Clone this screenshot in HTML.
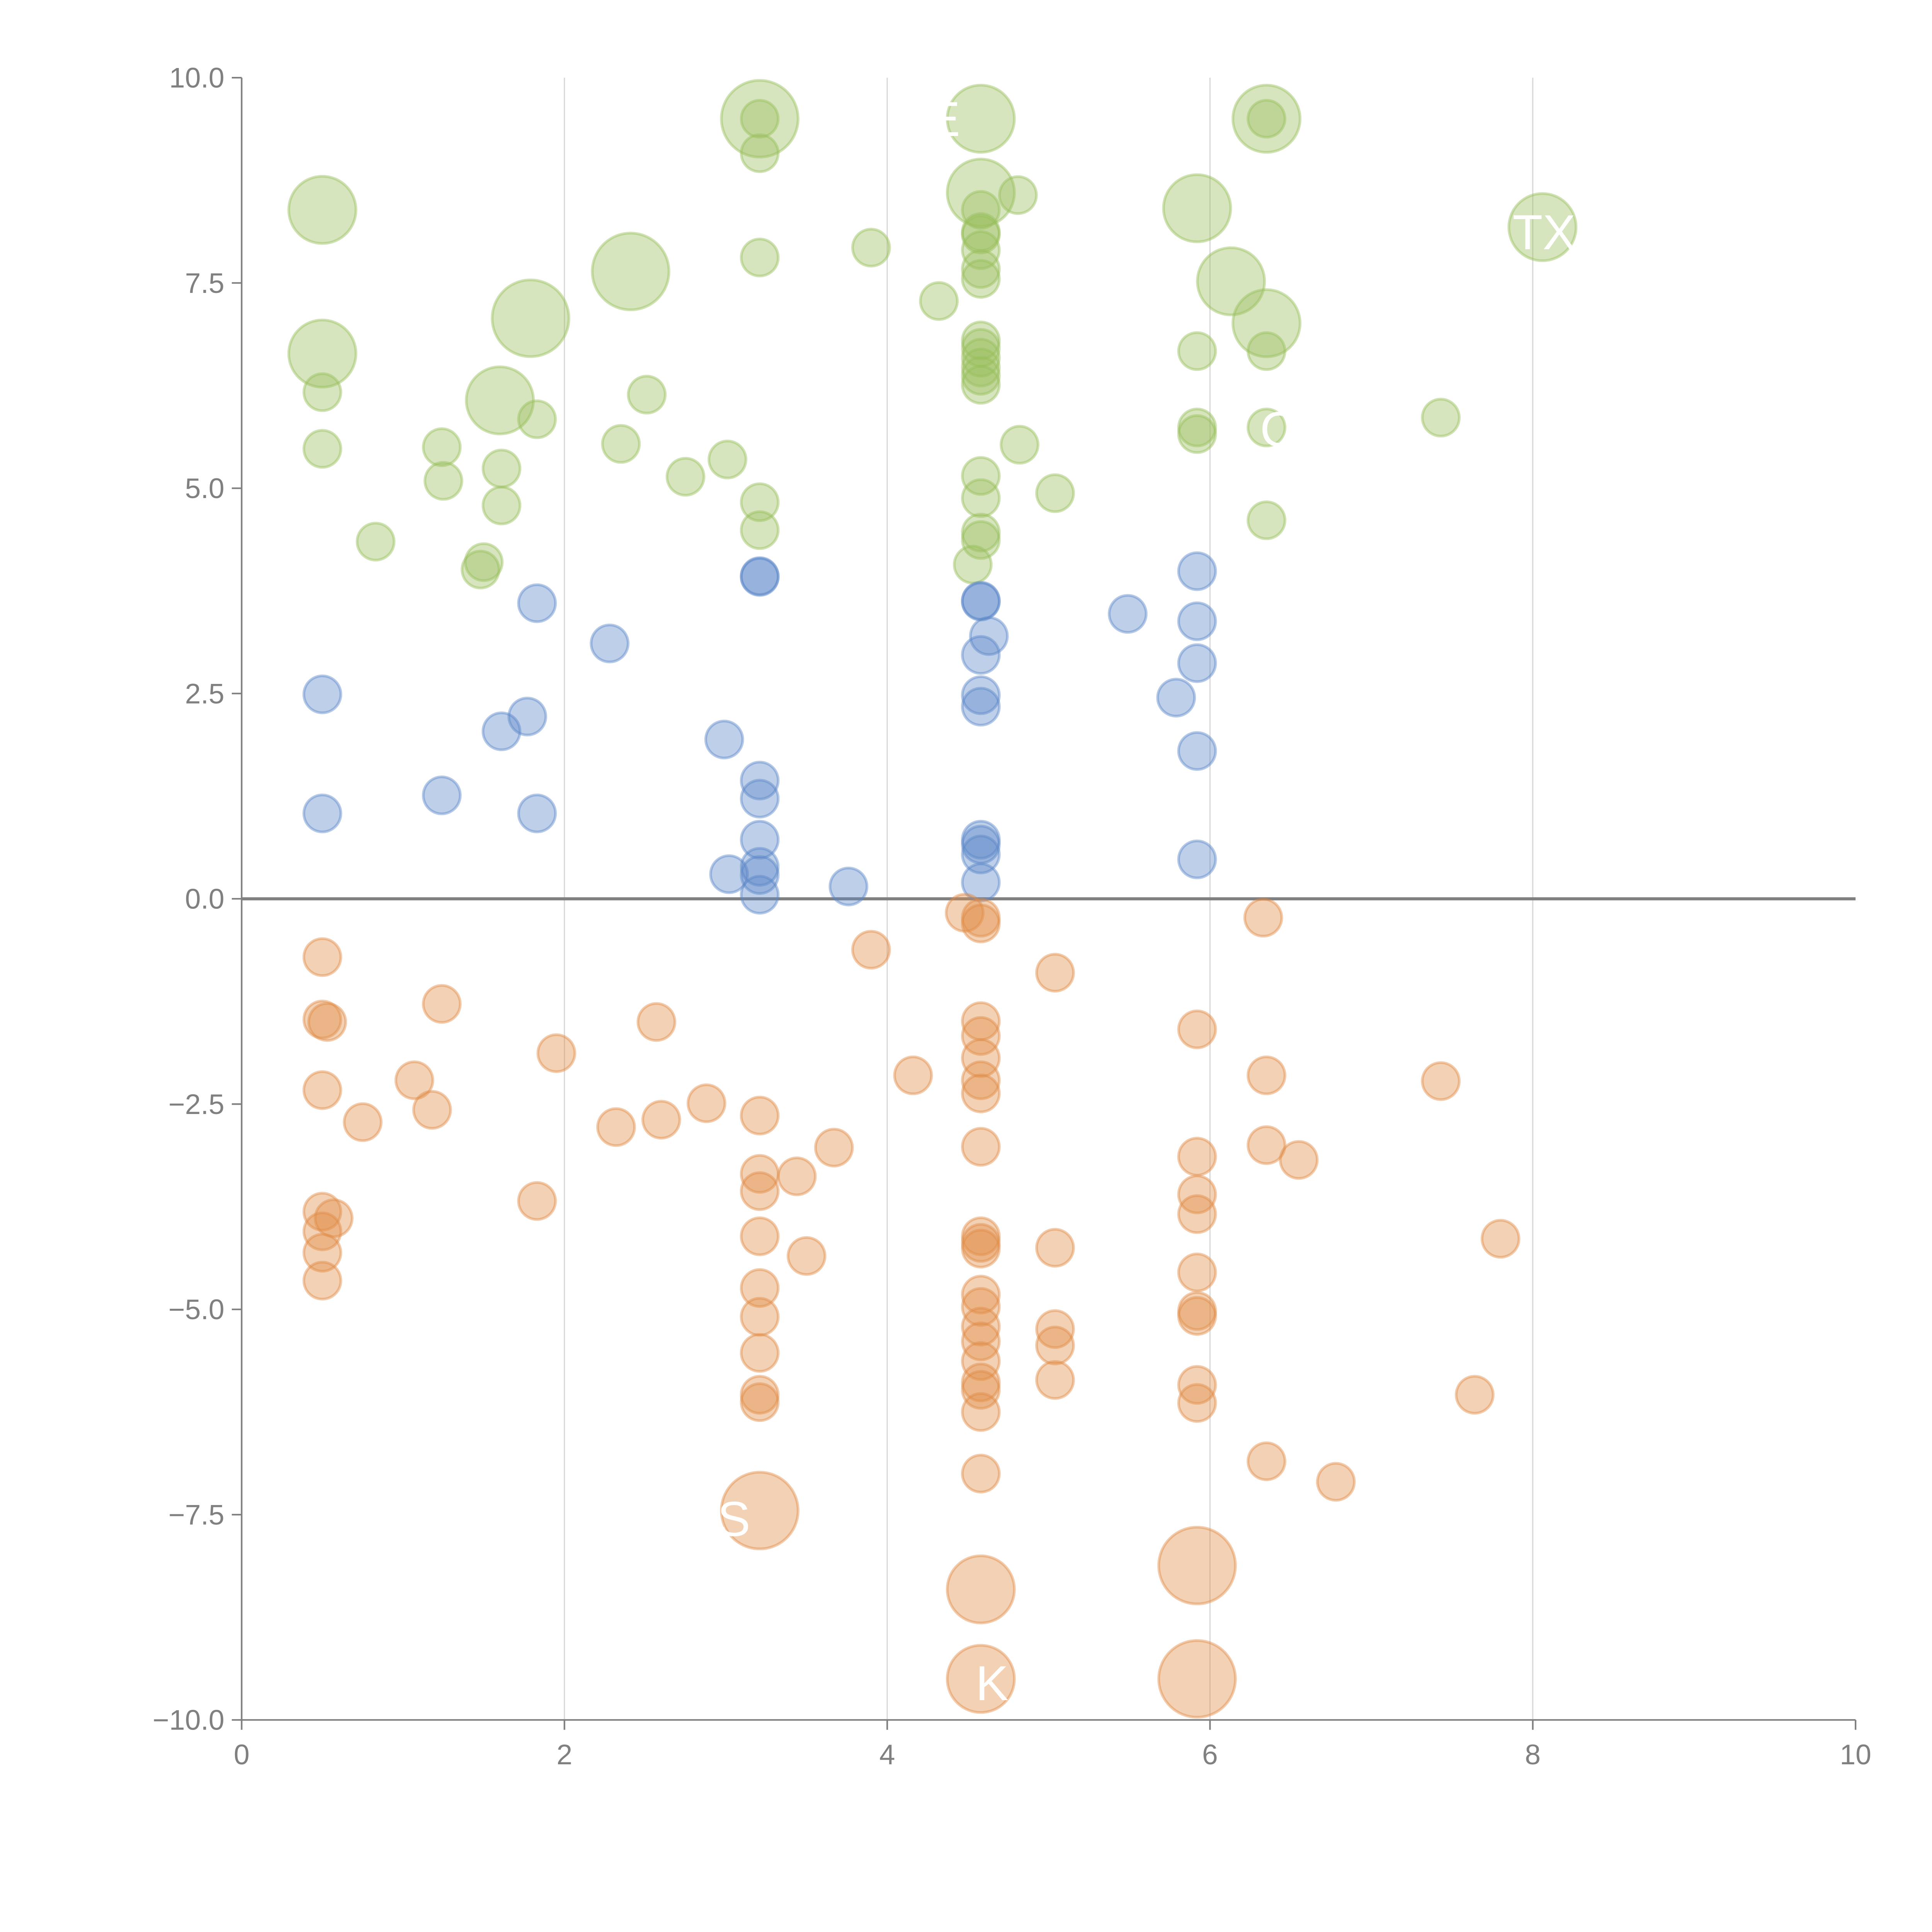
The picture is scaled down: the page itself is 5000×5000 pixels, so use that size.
<!DOCTYPE html>
<html><head><meta charset="utf-8"><style>
html,body{margin:0;padding:0;background:#fff;}
svg{display:block;}
text{font-family:"Liberation Sans",Arial,sans-serif;}
</style></head><body>
<svg id="chart" width="5000" height="5000" viewBox="0 0 1567 1567" xmlns="http://www.w3.org/2000/svg">
<g id="grid"></g>
<g id="axes"></g>
<g id="marks"></g>
<g id="labels"></g>
</svg>
<script>
const xTicks=[0,2,4,6,8,10];
const yTicks=[-10,-7.5,-5,-2.5,0,2.5,5,7.5,10];
const xTickLabels=["0","2","4","6","8","10"];
const yTickLabels=["\u221210.0","\u22127.5","\u22125.0","\u22122.5","0.0","2.5","5.0","7.5","10.0"];

const greenX=[0.50,0.50,0.50,0.50,0.83,1.24,1.25,1.48,1.50,1.61,1.61,1.60,1.79,1.83,2.41,2.35,2.51,2.75,3.01,3.21,3.21,3.21,3.21,3.21,3.21,3.90,4.32,4.58,4.58,4.81,4.58,4.58,4.58,4.58,4.58,4.58,4.58,4.58,4.58,4.58,4.58,4.58,4.58,4.58,4.58,4.58,4.53,4.82,5.04,5.92,6.13,6.35,6.35,6.35,6.35,5.92,5.92,5.92,6.35,6.35,7.43,8.06];
const greenY=[8.39,6.64,6.17,5.48,4.35,5.50,5.09,4.01,4.10,5.24,4.79,6.07,7.07,5.84,7.64,5.54,6.14,5.14,5.35,9.50,9.50,9.08,7.81,4.83,4.49,7.93,7.28,9.50,8.60,8.57,8.39,8.12,8.09,7.90,7.67,7.55,6.80,6.71,6.59,6.47,6.37,6.26,5.15,4.88,4.46,4.37,4.07,5.53,4.94,8.41,7.52,9.50,9.50,7.01,6.67,6.67,5.74,5.66,5.74,4.61,5.86,8.18];
const greenS=[3.3,3.3,1,1,1,1,1,1,1,1,1,3.3,4.3,1,4.3,1,1,1,1,4.3,1,1,1,1,1,1,1,3.3,3.3,1,1,1,1,1,1,1,1,1,1,1,1,1,1,1,1,1,1,1,1,3.3,3.3,3.3,1,3.3,1,1,1,1,1,1,1,3.3];

const blueX=[0.50,0.50,1.24,1.61,1.77,1.83,1.83,2.28,2.99,3.02,3.21,3.21,3.21,3.21,3.21,3.21,3.21,3.21,3.76,4.58,4.58,4.63,4.58,4.58,4.58,4.58,4.58,4.58,4.58,5.49,5.79,5.92,5.92,5.92,5.92,5.92];
const blueY=[2.49,1.04,1.26,2.04,2.22,3.60,1.04,3.11,1.94,0.30,3.93,3.92,1.44,1.22,0.72,0.39,0.29,0.05,0.15,3.63,3.62,3.20,2.97,2.48,2.34,0.72,0.66,0.54,0.20,3.47,2.45,3.99,3.38,2.87,1.80,0.48];

const orangeX=[0.50,0.50,0.53,0.50,0.75,1.07,1.18,1.24,0.50,0.57,0.50,0.50,0.50,1.83,1.95,2.32,2.57,2.60,2.88,3.21,3.21,3.21,3.21,3.21,3.21,3.21,3.21,3.21,3.44,3.50,3.67,3.90,4.16,4.48,4.58,4.58,4.58,4.58,4.58,4.58,4.58,4.58,4.58,4.58,4.58,4.58,4.58,4.58,4.58,4.58,4.58,4.58,4.58,4.58,5.04,5.04,5.04,5.04,5.04,5.92,5.92,5.92,5.92,5.92,5.92,5.92,5.92,5.92,6.33,6.35,6.35,6.55,6.35,6.78,7.43,7.64,7.80,3.21,4.58,4.58,5.92,5.92];
const orangeY=[-0.71,-1.47,-1.50,-2.33,-2.72,-2.21,-2.57,-1.28,-3.81,-3.89,-4.05,-4.31,-4.65,-3.68,-1.88,-2.78,-1.50,-2.69,-2.49,-2.64,-3.35,-3.56,-4.11,-4.74,-5.09,-5.53,-6.04,-6.13,-3.38,-4.35,-3.03,-0.62,-2.15,-0.17,-0.23,-0.30,-1.49,-1.67,-1.94,-2.21,-2.37,-3.02,-4.11,-4.19,-4.26,-4.82,-4.97,-5.21,-5.39,-5.63,-5.89,-5.98,-6.25,-7.00,-0.90,-4.25,-5.24,-5.44,-5.86,-1.59,-3.14,-3.60,-3.84,-4.55,-5.02,-5.08,-5.92,-6.14,-0.23,-2.15,-3.00,-3.18,-6.85,-7.10,-2.22,-6.04,-4.14,-7.45,-8.41,-9.50,-8.12,-9.50];
const orangeS=[1,1,1,1,1,1,1,1,1,1,1,1,1,1,1,1,1,1,1,1,1,1,1,1,1,1,1,1,1,1,1,1,1,1,1,1,1,1,1,1,1,1,1,1,1,1,1,1,1,1,1,1,1,1,1,1,1,1,1,1,1,1,1,1,1,1,1,1,1,1,1,1,1,1,1,1,1,4.3,3.3,3.3,4.3,4.3];

const pointLabels=["TX","K","C","E","S"];
const pointLabelX=[8.07,4.65,6.42,4.35,3.05];
const pointLabelY=[8.12,-9.55,5.72,9.50,-7.55];

const NS="http://www.w3.org/2000/svg";
const X0=196,X1=1505,Y0=1395,Y1=63;
const sx=v=>X0+(v-0)/(10-0)*(X1-X0);
const sy=v=>Y0-(v+10)/20*(Y0-Y1);
const rad=s=>15*Math.sqrt(s);
function mk(tag,attrs,parent){const e=document.createElementNS(NS,tag);for(const k in attrs)e.setAttribute(k,attrs[k]);parent.appendChild(e);return e;}
const grid=document.getElementById('grid'),axes=document.getElementById('axes'),marks=document.getElementById('marks'),labels=document.getElementById('labels');

xTicks.forEach((t,i)=>{
  if(t>0&&t<10){const g=mk('line',{x1:sx(t),x2:sx(t),y1:Y1,y2:Y0,stroke:'#d8d8d8','stroke-width':1},grid);
  
  }
  const tk=mk('line',{x1:sx(t),x2:sx(t),y1:Y0,y2:Y0+8,stroke:'#808080','stroke-width':1.3},axes);
  
  
  const tx=mk('text',{x:sx(t),y:Y0+36,'text-anchor':'middle','font-size':23,fill:'#808080'},axes);
  tx.textContent=xTickLabels[i];
  
  
});
yTicks.forEach((t,i)=>{
  const tk=mk('line',{x1:X0-8,x2:X0,y1:sy(t),y2:sy(t),stroke:'#808080','stroke-width':1.3},axes);
  
  
  const tx=mk('text',{x:X0-14,y:sy(t)+8,'text-anchor':'end','font-size':23,fill:'#808080'},axes);
  tx.textContent=yTickLabels[i];
  
  
});
const ys=mk('line',{x1:X0,x2:X0,y1:Y1,y2:Y0,stroke:'#808080','stroke-width':1.3},axes);


const xs=mk('line',{x1:X0,x2:X1,y1:Y0,y2:Y0,stroke:'#808080','stroke-width':1.3},axes);


const zl=mk('line',{x1:X0,x2:X1,y1:sy(0),y2:sy(0),stroke:'#808080','stroke-width':2.5},axes);



function series(xsA,ysA,ssA,fill,stroke,name){
  xsA.forEach((x,i)=>{
    const s=ssA?ssA[i]:1;
    const c=mk('circle',{cx:sx(x),cy:sy(ysA[i]),r:rad(s),fill:fill,'fill-opacity':0.4,stroke:stroke,'stroke-opacity':0.45,'stroke-width':2.2},marks);
    
    
  });
}
series(greenX,greenY,greenS,'rgb(154,190,92)','rgb(150,190,90)','green-bubble');
series(blueX,blueY,null,'rgb(92,135,200)','rgb(92,135,200)','blue-bubble');
series(orangeX,orangeY,orangeS,'rgb(225,140,70)','rgb(225,140,70)','orange-bubble');

pointLabels.forEach((t,i)=>{
  const tx=mk('text',{x:sx(pointLabelX[i]),y:sy(pointLabelY[i])+14,'text-anchor':'middle','font-size':40,fill:'#fff'},labels);
  tx.textContent=t;
  
  
});
</script>
</body></html>
